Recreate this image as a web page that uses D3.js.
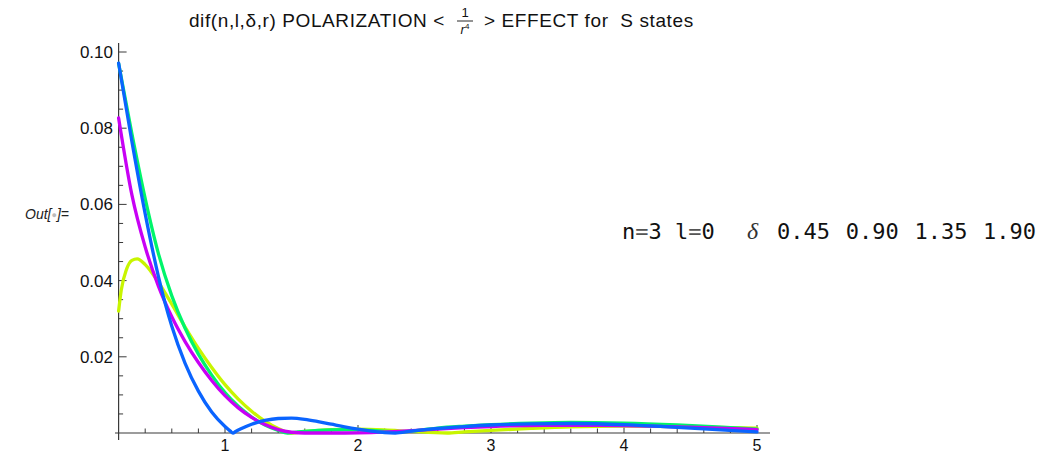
<!DOCTYPE html>
<html><head><meta charset="utf-8">
<script src="https://cdn.jsdelivr.net/npm/d3@7"></script>
<style>
html,body{margin:0;padding:0;background:#fff;}
svg{display:block;}
</style></head>
<body>
<svg id="chart" width="1050" height="454"></svg>
<script>
// ---- data ----
const titleLeft = "dif(n,l,\u03B4,r) POLARIZATION <";
const titleRight = "> EFFECT for  S states";
const xTicks = [1, 2, 3, 4, 5];
const yTicks = [0.02, 0.04, 0.06, 0.08, 0.10];
const deltas = ["0.45", "0.90", "1.35", "1.90"];
const seriesColors = ["#c8f500", "#00f56a", "#c800f5", "#0a64ff"];

const yellowX = [0.2,0.22,0.26,0.3,0.34,0.4,0.5,0.6,0.7,0.8,0.9,1.0,1.1,1.2,1.3,1.4,1.5,1.6,1.8,2.0,2.2,2.4,2.67,2.8,3.0,3.3,3.6,4.0,4.4,4.7,5.0];
const yellowY = [0.0320,0.0375,0.0430,0.0453,0.0457,0.0442,0.0395,0.0338,0.0278,0.0222,0.0172,0.0127,0.0089,0.0057,0.0031,0.0012,0.0000,0.0004,0.0009,0.0010,0.0008,0.0004,0.0000,0.0003,0.0007,0.0012,0.0016,0.0018,0.0017,0.0015,0.0013];

const greenX = [0.2,0.3,0.4,0.5,0.6,0.7,0.8,0.9,1.0,1.1,1.2,1.3,1.4,1.47,1.55,1.7,1.9,2.1,2.3,2.45,2.6,2.8,3.0,3.3,3.6,4.0,4.4,4.7,5.0];
const greenY = [0.0970,0.0785,0.0615,0.0470,0.0360,0.0275,0.0207,0.0152,0.0106,0.0070,0.0042,0.0021,0.0007,0.0000,0.0003,0.0007,0.0009,0.0007,0.0003,0.0007,0.0013,0.0018,0.0022,0.0026,0.0028,0.0026,0.0021,0.0016,0.0010];

const magentaX = [0.2,0.3,0.4,0.5,0.6,0.7,0.8,0.9,1.0,1.1,1.2,1.3,1.4,1.5,1.6,1.9,2.1,2.3,2.5,2.8,3.0,3.4,3.8,4.2,4.6,5.0];
const magentaY = [0.0827,0.0625,0.0488,0.0385,0.0305,0.0240,0.0185,0.0138,0.0098,0.0066,0.0041,0.0022,0.0009,0.0002,0.0000,0.0000,0.0001,0.0004,0.0008,0.0014,0.0017,0.0020,0.0020,0.0018,0.0014,0.0009];

const blueX = [0.2,0.3,0.4,0.5,0.6,0.7,0.8,0.9,1.0,1.04,1.06,1.08,1.12,1.2,1.3,1.4,1.5,1.6,1.7,1.8,1.9,2.0,2.1,2.2,2.28,2.4,2.6,2.8,3.0,3.3,3.6,4.0,4.3,4.6,5.0];
const blueY = [0.0971,0.0765,0.0575,0.0410,0.0280,0.0183,0.0110,0.0055,0.0017,0.0005,0.0000,0.0004,0.0011,0.0023,0.0033,0.0038,0.0039,0.0036,0.0030,0.0023,0.0016,0.0010,0.0005,0.0001,0.0000,0.0005,0.0012,0.0017,0.0021,0.0024,0.0025,0.0022,0.0017,0.0011,0.0003];

const seriesX = [yellowX, greenX, magentaX, blueX];
const seriesY = [yellowY, greenY, magentaY, blueY];

// ---- layout ----
const sans = "'Liberation Sans',Arial,sans-serif";
const mono = "'DejaVu Sans Mono','Liberation Mono',monospace";
const svg = d3.select("#chart");
const x = d3.scaleLinear().domain([0.2, 5]).range([118.6, 757]);
const y = d3.scaleLinear().domain([0, 0.1]).range([433, 52]);
const axisColor = "#3a3a3a";

// y axis line
svg.append("line").attr("x1", x(0.2)).attr("x2", x(0.2)).attr("y1", 43).attr("y2", 440)
  .attr("stroke", axisColor).attr("stroke-width", 1.2);
// x axis line
svg.append("line").attr("x1", 115).attr("x2", 770).attr("y1", y(0)).attr("y2", y(0))
  .attr("stroke", axisColor).attr("stroke-width", 1.2);

// y ticks
const yMinor = d3.range(1, 21).map(i => i * 0.005);
svg.selectAll(".ytick").data(yMinor).enter().append("line")
  .attr("x1", x(0.2)).attr("x2", d => x(0.2) + (Math.abs(d / 0.02 - Math.round(d / 0.02)) < 1e-6 ? 8 : 4.5))
  .attr("y1", d => y(d)).attr("y2", d => y(d))
  .attr("stroke", axisColor).attr("stroke-width", 1);
svg.selectAll(".ylab").data(yTicks).enter().append("text")
  .attr("x", 113).attr("y", d => y(d) + 6)
  .attr("text-anchor", "end").style("font-family", sans).attr("font-size", 17).attr("fill", "#111")
  .text(d => d3.format(".2f")(d));

// x ticks
const xMinor = d3.range(2, 26).map(i => i * 0.2);
svg.selectAll(".xtick").data(xMinor).enter().append("line")
  .attr("x1", d => x(d)).attr("x2", d => x(d))
  .attr("y1", y(0)).attr("y2", d => y(0) - (Math.abs(d - Math.round(d)) < 1e-6 ? 8 : 4.5))
  .attr("stroke", axisColor).attr("stroke-width", 1);
svg.selectAll(".xlab").data(xTicks).enter().append("text")
  .attr("x", d => x(d)).attr("y", 451)
  .attr("text-anchor", "middle").style("font-family", sans).attr("font-size", 16).attr("fill", "#111")
  .text(d => d);

// curves
const line = d3.line().x(d => x(d[0])).y(d => y(d[1])).curve(d3.curveMonotoneX);
seriesX.forEach((xs, i) => {
  const pts = xs.map((v, j) => [v, seriesY[i][j]]);
  svg.append("path").datum(pts).attr("d", line)
    .attr("fill", "none").attr("stroke", seriesColors[i])
    .attr("stroke-width", 3.3).attr("stroke-linejoin", "round").attr("stroke-linecap", "round");
});

// title
svg.append("text").attr("x", 445).attr("y", 27).attr("text-anchor", "end")
  .style("font-family", sans).style("letter-spacing", "0.6px")
  .attr("font-size", 19).attr("fill", "#111").style("white-space", "pre").text(titleLeft);
svg.append("text").attr("x", 465).attr("y", 17).attr("text-anchor", "middle")
  .style("font-family", sans).attr("font-size", 13).attr("fill", "#111").text("1");
svg.append("line").attr("x1", 457).attr("x2", 473).attr("y1", 21).attr("y2", 21)
  .attr("stroke", "#111").attr("stroke-width", 0.9);
const rr = svg.append("text").attr("x", 465).attr("y", 34).attr("text-anchor", "middle")
  .style("font-family", sans).attr("font-size", 13).attr("fill", "#111");
rr.append("tspan").attr("font-style", "italic").text("r");
rr.append("tspan").attr("font-size", 8).attr("dy", -5).text("4");
svg.append("text").attr("x", 484).attr("y", 27).attr("text-anchor", "start")
  .style("font-family", sans).style("letter-spacing", "0.6px")
  .attr("font-size", 19).attr("fill", "#111").style("white-space", "pre").text(titleRight);

// Out[ ]= label
const out = svg.append("text").attr("x", 25).attr("y", 219).style("font-family", sans)
  .attr("font-size", 14).attr("font-style", "italic").attr("fill", "#222");
out.append("tspan").text("Out[");
out.append("tspan").attr("fill", "#bbb").attr("font-size", 9).attr("dy", -1).text("\u25CF");
out.append("tspan").attr("dy", 1).text("]=");

// annotation
const ann = svg.append("text").attr("x", 622).attr("y", 239).style("font-family", mono)
  .attr("font-size", 22).attr("fill", "#111").style("white-space", "pre");
ann.append("tspan").text("n");
ann.append("tspan").attr("fill", "#555").text("=");
ann.append("tspan").text("3 l");
ann.append("tspan").attr("fill", "#555").text("=");
ann.append("tspan").text("0");
svg.append("text").attr("x", 747).attr("y", 239).style("font-family", "'Liberation Serif',serif")
  .attr("font-style", "italic").attr("font-size", 24).attr("fill", "#333").text("\u03B4");
svg.selectAll(".dl").data(deltas).enter().append("text")
  .attr("x", (d, i) => 777 + i * 68.7).attr("y", 239).style("font-family", mono)
  .attr("font-size", 22).attr("fill", "#111").text(d => d);
</script>
</body></html>
